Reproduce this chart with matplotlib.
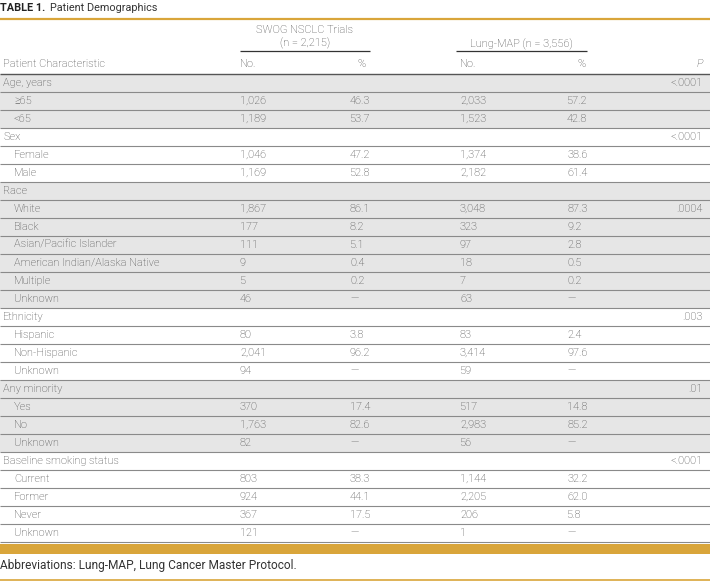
import matplotlib
matplotlib.use('Agg')
import matplotlib.pyplot as plt

# Dados da tabela
rotulos = ['Age, years', '≥65', '<65',
           'Sex', 'Female', 'Male',
           'Race', 'White', 'Black', 'Asian/Pacific Islander',
           'American Indian/Alaska Native', 'Multiple', 'Unknown',
           'Ethnicity', 'Hispanic', 'Non-Hispanic', 'Unknown',
           'Any minority', 'Yes', 'No', 'Unknown',
           'Baseline smoking status', 'Current', 'Former', 'Never', 'Unknown']
eh_secao = [True, False, False,
            True, False, False,
            True, False, False, False, False, False, False,
            True, False, False, False,
            True, False, False, False,
            True, False, False, False, False]
swog_n = ['', '1,026', '1,189', '', '1,046', '1,169',
          '', '1,867', '177', '111', '9', '5', '46',
          '', '80', '2,041', '94', '', '370', '1,763', '82',
          '', '803', '924', '367', '121']
swog_pct = ['', '46.3', '53.7', '', '47.2', '52.8',
            '', '86.1', '8.2', '5.1', '0.4', '0.2', '—',
            '', '3.8', '96.2', '—', '', '17.4', '82.6', '—',
            '', '38.3', '44.1', '17.5', '—']
lmap_n = ['', '2,033', '1,523', '', '1,374', '2,182',
          '', '3,048', '323', '97', '18', '7', '63',
          '', '83', '3,414', '59', '', '517', '2,983', '56',
          '', '1,144', '2,205', '206', '1']
lmap_pct = ['', '57.2', '42.8', '', '38.6', '61.4',
            '', '87.3', '9.2', '2.8', '0.5', '0.2', '—',
            '', '2.4', '97.6', '—', '', '14.8', '85.2', '—',
            '', '32.2', '62.0', '5.8', '—']
valores_p = ['<.0001', '', '', '<.0001', '', '',
             '', '.0004', '', '', '', '', '',
             '.003', '', '', '', '.01', '', '', '',
             '<.0001', '', '', '', '']

# Cores
ouro = '#d9a53a'
cinza_fundo = '#e6e6e6'
cor_linha = '#8a8a8a'
cor_texto = '#444444'
fonte = 'Roboto'
tam = 7.9

fig = plt.figure(figsize=(7.10, 5.82), dpi=100)
ax = fig.add_axes([0, 0, 1, 1])
ax.set_xlim(0, 710)
ax.set_ylim(582, 0)
ax.axis('off')

def txt(x, y, s, ha='left', **kw):
    kw.setdefault('color', cor_texto)
    kw.setdefault('fontsize', tam)
    kw.setdefault('family', fonte)
    kw.setdefault('weight', 'light')
    ax.text(x, y, s, ha=ha, va='center', **kw)

# Titulo
ax.text(0, 8, 'TABLE 1.', fontsize=7.8, family=fonte, weight='bold',
        color='#222222', va='center')
ax.text(50, 8, 'Patient Demographics', fontsize=7.8, family=fonte,
        color='#333333', va='center')
ax.hlines(19, 0, 710, color=ouro, lw=1.6)

# Cabecalho
txt(305, 30, 'SWOG NSCLC Trials', ha='center')
txt(305, 43, '(n = 2,215)', ha='center')
ax.hlines(51, 240, 370, color='#333333', lw=0.9)
txt(521, 44, 'Lung-MAP (n = 3,556)', ha='center')
ax.hlines(51, 456, 587, color='#333333', lw=0.9)
txt(3, 64, 'Patient Characteristic')
txt(240, 64, 'No.')
txt(357, 64, '%')
txt(460, 64, 'No.')
txt(577, 64, '%')
txt(703, 64, 'P', ha='right', style='italic')

# Linhas da tabela
topo = 74
passo = 18
sombreado = False
n = len(rotulos)
for i in range(n):
    if eh_secao[i]:
        sombreado = not sombreado
    y0 = topo + i * passo
    if sombreado:
        ax.fill_between([0, 710], y0, y0 + passo, color=cinza_fundo, lw=0)
    yc = y0 + passo / 2
    txt(3 if eh_secao[i] else 14, yc, rotulos[i])
    txt(240, yc, swog_n[i])
    txt(350, yc, swog_pct[i])
    txt(460, yc, lmap_n[i])
    txt(567, yc, lmap_pct[i])
    txt(703, yc, valores_p[i], ha='right')

for i in range(n + 1):
    y = topo + i * passo
    ax.hlines(y, 0, 710, color=('#555555' if i == 0 else cor_linha),
              lw=(1.0 if i == 0 else 0.8))

# Barra dourada e rodape
base = topo + n * passo
ax.fill_between([0, 710], base + 1.5, base + 12, color=ouro, lw=0)
txt(0, 566, 'Abbreviations: Lung-MAP, Lung Cancer Master Protocol.',
    color='#333333', weight='normal', fontsize=8.6)
ax.hlines(580, 0, 710, color=ouro, lw=1.2)

plt.savefig('out.png', dpi=100)
